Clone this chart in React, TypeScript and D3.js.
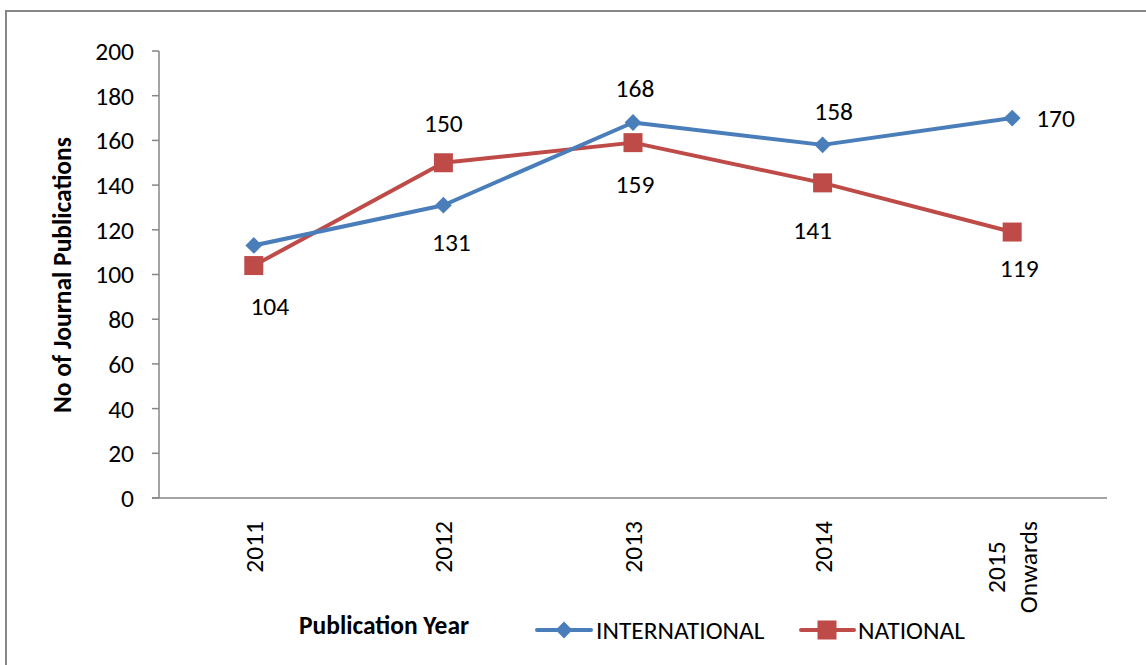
import React, { useEffect, useRef } from "react";
import * as d3 from "d3";

const categories: string[][] = [["2011"], ["2012"], ["2013"], ["2014"], ["2015", "Onwards"]];
const international: number[] = [113, 131, 168, 158, 170];
const national: number[] = [104, 150, 159, 141, 119];
const yTicks: number[] = [0, 20, 40, 60, 80, 100, 120, 140, 160, 180, 200];
// label visibility per point
const intlLabelShown: boolean[] = [false, true, true, true, true];
const natLabelShown: boolean[] = [true, true, true, true, true];

// layout only: label offsets (px) from each point, as placed in the original
const intlLabelOffset: [number, number, string][] = [
  [0, 0, "middle"], [8, 37, "middle"], [2, -34, "middle"], [11, -34, "middle"], [24, 0, "start"],
];
const natLabelOffset: [number, number, string][] = [
  [16, 41, "middle"], [0, -40, "middle"], [2, 41, "middle"], [-10, 47, "middle"], [7, 36, "middle"],
];

const W = 1146;
const H = 665;
const FONT = "Carlito, Lato, 'Open Sans', sans-serif";
const FS = 25.5;
const BLUE = "#4A7EBB";
const RED = "#BE4B48";
const AXIS = "#868686";

export default function App() {
  const ref = useRef<SVGSVGElement>(null);

  useEffect(() => {
    const svg = d3.select(ref.current);
    svg.selectAll("*").remove();

    const left = 159, right = 1107, top = 51, bottom = 498;
    const x = d3.scaleBand<number>().domain(d3.range(categories.length)).range([left, right]);
    const cx = (i: number) => (x(i) as number) + x.bandwidth() / 2;
    const y = d3.scaleLinear().domain([0, 200]).range([bottom, top]);

    // outer frame
    svg.append("rect").attr("x", 6).attr("y", 11).attr("width", 1150).attr("height", 700)
      .attr("fill", "white").attr("stroke", AXIS).attr("stroke-width", 2);

    // y axis
    svg.append("line").attr("x1", left).attr("x2", left).attr("y1", top).attr("y2", bottom)
      .attr("stroke", AXIS).attr("stroke-width", 1.5);
    const yt = svg.append("g");
    yTicks.forEach((t) => {
      yt.append("line").attr("x1", left - 7).attr("x2", left).attr("y1", y(t)).attr("y2", y(t))
        .attr("stroke", AXIS).attr("stroke-width", 1.5);
      yt.append("text").attr("x", left - 25).attr("y", y(t)).attr("dy", "0.35em")
        .attr("text-anchor", "end").attr("font-family", FONT).attr("font-size", FS)
        .attr("fill", "#000").text(String(t));
    });
    // x axis
    svg.append("line").attr("x1", left - 7).attr("x2", right).attr("y1", bottom).attr("y2", bottom)
      .attr("stroke", AXIS).attr("stroke-width", 1.5);

    // x tick labels rotated
    categories.forEach((lines, i) => {
      const g = svg.append("g").attr("transform", `translate(${cx(i)},521) rotate(-90)`);
      const texts = lines.map((s) =>
        g.append("text").attr("font-family", FONT).attr("font-size", FS).attr("fill", "#000").text(s)
      );
      const widths = texts.map((t) => (t.node() as SVGTextElement).getComputedTextLength());
      const maxW = Math.max(...widths);
      const lh = 32;
      const n = lines.length;
      texts.forEach((t, k) => {
        t.attr("text-anchor", "middle")
          .attr("x", -maxW / 2)
          .attr("y", (k - (n - 1) / 2) * lh)
          .attr("dy", "0.35em");
      });
    });

    // axis titles
    svg.append("text").attr("transform", `translate(62,275) rotate(-90)`).attr("text-anchor", "middle")
      .attr("dy", "0.35em").attr("font-family", FONT).attr("font-size", FS).attr("font-weight", "bold")
      .text("No of Journal Publications");
    svg.append("text").attr("x", 384).attr("y", 625).attr("text-anchor", "middle").attr("dy", "0.35em")
      .attr("font-family", FONT).attr("font-size", FS).attr("font-weight", "bold").text("Publication Year");

    const line = d3.line<number>().x((_, i) => cx(i)).y((d) => y(d));
    const diamond = d3.symbol().type(d3.symbolDiamond2).size(180);
    const SQ = 19;

    // national
    svg.append("path").attr("d", line(national) as string).attr("fill", "none")
      .attr("stroke", RED).attr("stroke-width", 4).attr("stroke-linejoin", "round");
    national.forEach((v, i) => {
      svg.append("rect").attr("x", cx(i) - SQ / 2).attr("y", y(v) - SQ / 2).attr("width", SQ).attr("height", SQ)
        .attr("fill", RED);
    });
    // international
    svg.append("path").attr("d", line(international) as string).attr("fill", "none")
      .attr("stroke", BLUE).attr("stroke-width", 4).attr("stroke-linejoin", "round");
    international.forEach((v, i) => {
      svg.append("path").attr("d", diamond() as string)
        .attr("transform", `translate(${cx(i)},${y(v)})`).attr("fill", BLUE);
    });

    const addLabel = (v: number, i: number, shown: boolean, off: [number, number, string]) => {
      if (!shown) return;
      svg.append("text").attr("x", cx(i) + off[0]).attr("y", y(v) + off[1]).attr("dy", "0.35em")
        .attr("text-anchor", off[2])
        .attr("font-family", FONT).attr("font-size", FS).attr("fill", "#000").text(String(v));
    };
    international.forEach((v, i) => addLabel(v, i, intlLabelShown[i], intlLabelOffset[i]));
    national.forEach((v, i) => addLabel(v, i, natLabelShown[i], natLabelOffset[i]));

    // legend
    const lg = svg.append("g");
    const ly = 630;
    lg.append("line").attr("x1", 537).attr("x2", 591).attr("y1", ly).attr("y2", ly)
      .attr("stroke", BLUE).attr("stroke-width", 4).attr("stroke-linecap", "round");
    lg.append("path").attr("d", diamond() as string).attr("transform", `translate(564,${ly})`).attr("fill", BLUE);
    lg.append("text").attr("x", 596).attr("y", ly).attr("dy", "0.35em").attr("font-family", FONT)
      .attr("font-size", FS).text("INTERNATIONAL");
    lg.append("line").attr("x1", 801).attr("x2", 854).attr("y1", ly).attr("y2", ly)
      .attr("stroke", RED).attr("stroke-width", 4).attr("stroke-linecap", "round");
    lg.append("rect").attr("x", 827 - SQ / 2).attr("y", ly - SQ / 2).attr("width", SQ).attr("height", SQ).attr("fill", RED);
    lg.append("text").attr("x", 858).attr("y", ly).attr("dy", "0.35em").attr("font-family", FONT)
      .attr("font-size", FS).text("NATIONAL");
  }, []);

  return (
    <svg
      ref={ref}
      width={W}
      height={H}
      style={{ position: "absolute", left: 0, top: 0, display: "block", background: "white" }}
    />
  );
}
